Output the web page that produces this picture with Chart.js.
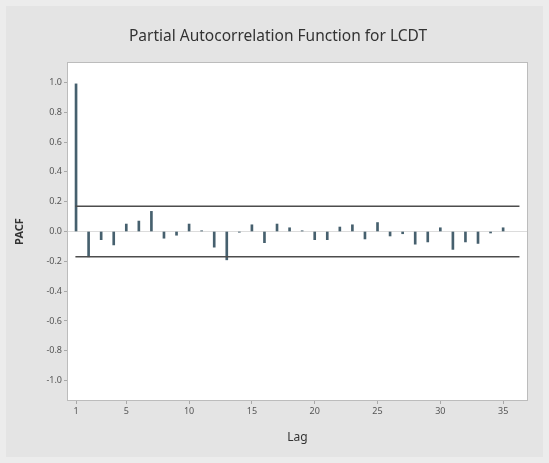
<!DOCTYPE html>
<html>
<head>
<meta charset="utf-8">
<script src="https://cdn.jsdelivr.net/npm/chart.js@4.4.1/dist/chart.umd.min.js"></script>
<style>
  html, body { margin: 0; padding: 0; background: #e6e6e6; }
  #wrap { width: 549px; height: 463px; position: relative; }
</style>
</head>
<body>
<div id="wrap"><canvas id="c" width="549" height="463"></canvas></div>
<script>
// Partial autocorrelation of LCDT by lag
const lags = [1, 2, 3, 4, 5, 6, 7, 8, 9, 10, 11, 12, 13, 14, 15, 16, 17, 18,
              19, 20, 21, 22, 23, 24, 25, 26, 27, 28, 29, 30, 31, 32, 33, 34, 35];
const pacf = [0.99, -0.17, -0.055, -0.09, 0.05, 0.07, 0.135, -0.045, -0.025, 0.05,
              0.005, -0.105, -0.19, -0.005, 0.045, -0.075, 0.05, 0.025, 0.005, -0.055,
              -0.055, 0.03, 0.045, -0.05, 0.06, -0.03, -0.015, -0.085, -0.07, 0.025,
              -0.12, -0.07, -0.08, -0.01, 0.025];
// 5% significance limits
const upperLimit = 0.17;
const lowerLimit = -0.17;
const limitSpan = [0.95, 36.3];
// axis ticks
const xTicks = [1, 5, 10, 15, 20, 25, 30, 35];
const yTicks = [-1.0, -0.8, -0.6, -0.4, -0.2, 0.0, 0.2, 0.4, 0.6, 0.8, 1.0];

const chartTitle = 'Partial Autocorrelation Function for LCDT';

const framePlugin = {
  id: 'frame',
  beforeDraw(chart) {
    const ctx = chart.ctx;
    const a = chart.chartArea;
    ctx.save();
    ctx.fillStyle = '#ececec';
    ctx.fillRect(0, 0, chart.width, chart.height);
    ctx.fillStyle = '#e4e4e4';
    ctx.fillRect(6, 6, chart.width - 12, chart.height - 12);
    ctx.fillStyle = '#ffffff';
    ctx.fillRect(a.left, a.top, a.right - a.left, a.bottom - a.top);
    ctx.restore();
  },
  afterDraw(chart) {
    const ctx = chart.ctx;
    const a = chart.chartArea;
    ctx.save();
    ctx.strokeStyle = '#bcbcbc';
    ctx.lineWidth = 1;
    ctx.strokeRect(a.left - 0.5, a.top - 0.5, a.right - a.left + 1, a.bottom - a.top + 1);
    ctx.fillStyle = '#333333';
    ctx.font = '15.5px "Noto Sans", "Open Sans", sans-serif';
    ctx.textAlign = 'center';
    ctx.textBaseline = 'middle';
    ctx.fillText(chartTitle, 278, 37);
    ctx.restore();
  }
};

new Chart(document.getElementById('c'), {
  data: {
    datasets: [
      {
        type: 'bar',
        label: 'PACF',
        data: lags.map((l, i) => ({ x: l, y: pacf[i] })),
        backgroundColor: '#46606e',
        barThickness: 2,
        order: 2
      },
      {
        type: 'line',
        label: 'Upper',
        data: limitSpan.map(x => ({ x: x, y: upperLimit })),
        borderColor: '#4d4d4d',
        borderWidth: 1.5,
        pointRadius: 0,
        order: 1
      },
      {
        type: 'line',
        label: 'Lower',
        data: limitSpan.map(x => ({ x: x, y: lowerLimit })),
        borderColor: '#4d4d4d',
        borderWidth: 1.5,
        pointRadius: 0,
        order: 1
      }
    ]
  },
  options: {
    responsive: false,
    animation: false,
    layout: { padding: { top: 63, right: 22, left: 0, bottom: 0 } },
    plugins: {
      legend: { display: false },
      tooltip: { enabled: false },
      title: { display: false }
    },
    scales: {
      x: {
        type: 'linear',
        min: 0.36,
        max: 36.9,
        offset: false,
        afterFit(scale) { scale.height = 63; },
        afterBuildTicks(scale) { scale.ticks = xTicks.map(v => ({ value: v })); },
        ticks: {
          color: '#555555',
          font: { family: '"Noto Sans", "Open Sans", sans-serif', size: 9 },
          padding: 2,
          maxRotation: 0,
          callback: v => String(v)
        },
        grid: { offset: false, drawOnChartArea: false, drawTicks: true, tickLength: 4, color: '#a8a8a8' },
        border: { display: false },
        title: {
          display: true,
          text: 'Lag',
          color: '#333333',
          font: { family: '"Noto Sans", "Open Sans", sans-serif', size: 12 },
          padding: { top: 0, bottom: 18 }
        }
      },
      y: {
        type: 'linear',
        min: -1.13,
        max: 1.13,
        afterFit(scale) { scale.width = 68; },
        afterBuildTicks(scale) { scale.ticks = yTicks.map(v => ({ value: v })); },
        ticks: {
          color: '#555555',
          font: { family: '"Noto Sans", "Open Sans", sans-serif', size: 9 },
          padding: 2,
          callback: v => Number(v).toFixed(1)
        },
        grid: {
          drawOnChartArea: true,
          drawTicks: true,
          tickLength: 4,
          color: ctx => (ctx.tick && ctx.tick.value === 0 ? '#dcdcdc' : 'rgba(0,0,0,0)'),
          tickColor: '#a8a8a8'
        },
        border: { display: false },
        title: {
          display: true,
          text: 'PACF',
          color: '#333333',
          font: { family: '"Noto Sans", "Open Sans", sans-serif', size: 11, weight: 'bold' },
          padding: { top: 13, bottom: 0 }
        }
      }
    }
  },
  plugins: [framePlugin]
});
</script>
</body>
</html>
